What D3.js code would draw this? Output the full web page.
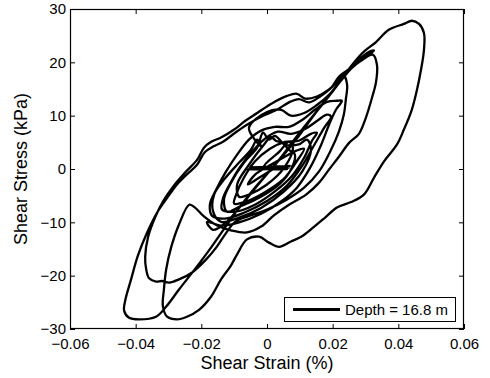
<!DOCTYPE html>
<html>
<head>
<meta charset="utf-8">
<script src="https://cdn.jsdelivr.net/npm/d3@7"></script>
<style>
html,body{margin:0;padding:0;background:#fff;}
svg{display:block;}
text{font-family:"Liberation Sans",Arial,sans-serif;fill:#000;}
</style>
</head>
<body>
<svg id="chart" width="490" height="378"></svg>
<script>
// ---- data (shear strain %, shear stress kPa) ----
const strain = [
 0,-0.0055,0.0067,-0.0061,0.0073,-0.0049,0.0061,-0.0009,
 0.0037,0.0067,0.0079,0.0052,0,-0.0055,-0.0085,-0.0091,-0.0055,-0.0009,0.0012,0.0027,0.0046,0.0067,0.0085,0.0073,0.0037,-0.0024,-0.0085,-0.0122,-0.0131,-0.0110,-0.0070,-0.0030,-0.0012,0.0006,0.0024,0.0055,0.0097,0.0122,0.0134,0.0107,0.0052,-0.0018,-0.0085,-0.0140,-0.0164,-0.0161,-0.0131,-0.0085,-0.0049,-0.0030,-0.0018,
 -0.0055,0,0.0043,0.0073,0.0113,0.0152,0.0189,0.0219,0.0234,
 0.0244,0.0240,0.0234,0.0219,0.0195,0.0158,0.0113,0.0061,0,-0.0055,-0.0097,
 -0.0128,-0.0152,-0.0186,-0.0228,-0.0268,-0.0298,-0.0320,-0.0338,-0.0359,-0.0368,
 -0.0371,-0.0362,-0.0341,-0.0317,-0.0286,-0.0250,-0.0213,-0.0192,-0.0170,-0.0140,-0.0100,-0.0067,-0.0030,0.0012,0.0061,0.0091,0.0116,0.0152,0.0189,0.0219,0.0250,0.0280,0.0311,0.0326,
 0.0295,0.0256,0.0219,0.0195,0.0164,0.0128,0.0097,0.0067,0.0030,-0.0018,-0.0061,-0.0097,-0.0134,-0.0164,-0.0189,-0.0213,-0.0244,-0.0274,
 -0.0304,-0.0335,-0.0365,-0.0393,-0.0414,-0.0432,-0.0435,-0.0420,-0.0390,
 -0.0338,-0.0307,-0.0268,-0.0216,-0.0170,-0.0128,-0.0085,-0.0037,0.0012,0.0058,0.0097,0.0137,0.0167,0.0198,0.0228,0.0259,0.0295,0.0332,0.0371,0.0417,0.0441,0.0463,
 0.0478,0.0478,0.0469,0.0457,0.0441,0.0417,0.0396,0.0356,0.0326,0.0295,0.0256,0.0213,0.0177,0.0140,0.0104,0.0073,0.0037,0.0006,-0.0024,-0.0061,-0.0091,-0.0110,
 -0.0140,-0.0170,-0.0207,-0.0244,-0.0274,-0.0304,-0.0317,
 -0.0314,-0.0307,-0.0292,-0.0268,-0.0237,
 -0.0222,-0.0192,-0.0152,-0.0110,-0.0061,-0.0018,0.0021,0.0067,0.0119,0.0158,0.0189,0.0219,0.0250,0.0280,0.0301,0.0320,0.0332,0.0335,0.0323,
 0.0286,0.0256,0.0222,0.0192,0.0158,0.0125,0.0088,0.0049,0.0006,-0.0040,-0.0085,-0.0128,-0.0164,-0.0183,
 -0.0140,-0.0085,-0.0018,0.0043,0.0091,0.0131,0.0164,0.0189,0.0210,0.0228,
 0.0213,0.0183,0.0146,0.0107,0.0067,0.0024,-0.0018,-0.0055,-0.0091,-0.0125,-0.0155,-0.0174,-0.0167,
 -0.0128,-0.0070,0,0.0061,0.0107,0.0143,0.0174,0.0195,
 0.0183,0.0152,0.0116,0.0073,0.0033,-0.0006,-0.0046,-0.0082,-0.0113,-0.0134,-0.0137,
 -0.0097,-0.0037,0.0024,0.0076,0.0113,0.0137,0.0152,
 0.0134,0.0097,0.0055,0.0009,-0.0037,-0.0070,-0.0094,-0.0100,
 -0.0055,0.0006,0.0055,0.0091,0.0113,
 0.0088,0.0049,0.0006,-0.0037,-0.0058,
 -0.0018,0.0024
];
const stress = [
 0.2,0.4,0.2,-0.1,0.6,0.2,-0.1,0.4,
 3.2,5.1,4.0,0.2,-2.9,-4.8,-5.2,-2.9,0.8,4.6,6.0,5.3,4.9,3.6,2.7,-0.1,-2.9,-5.4,-7.1,-8.0,-5.7,-2.6,1.2,4.0,6.8,5.5,6.2,4.6,4.6,5.5,3.6,-0.5,-4.2,-7.3,-9.1,-9.9,-8.0,-4.8,-2.0,1.2,3.6,5.5,4.2,
 7.7,10.7,11.1,10.0,10.5,12.0,13.9,16.2,17.5,
 15.8,13.0,10.2,7.0,3.6,-0.5,-3.5,-5.7,-7.6,-8.8,-9.9,
 -12.3,-14.5,-17.0,-19.4,-20.7,-21.3,-21.0,-21.1,-20.5,-18.8,
 -16.4,-12.7,-9.1,-6.1,-3.3,-0.7,1.7,4.0,5.1,5.9,7.4,9.0,10.5,12.2,13.7,14.1,13.2,13.6,14.9,16.7,18.6,20.5,22.0,22.2,
 20.9,19.0,17.3,15.2,13.7,12.5,13.1,12.5,11.1,9.8,8.3,6.8,5.1,4.2,3.2,0.8,-1.0,-2.9,
 -5.4,-8.2,-11.9,-16.2,-20.7,-24.7,-26.6,-27.9,-28.2,
 -27.7,-25.8,-22.6,-18.5,-14.7,-11.0,-7.3,-3.5,-0.1,3.2,6.2,9.6,12.0,14.5,16.9,19.5,22.0,23.8,26.1,27.2,27.8,27.2,
 25.5,22.3,18.6,14.9,11.1,7.4,4.6,1.4,-1.6,-4.8,-6.2,-7.2,-9.1,-11.0,-12.7,-13.6,-14.6,-13.8,-12.7,-13.2,-16.0,-18.1,
 -20.7,-23.9,-26.4,-27.7,-28.2,-27.7,-25.8,
 -22.6,-18.8,-14.7,-10.4,-6.7,
 -7.1,-8.9,-10.6,-11.5,-11.9,-10.8,-8.7,-6.7,-4.8,-2.6,-0.1,2.3,4.9,6.6,9.6,13.4,16.3,19.5,21.4,
 20.3,18.8,16.3,13.9,11.3,8.8,5.9,2.7,-0.5,-3.9,-7.3,-10.2,-11.4,-9.9,
 -10.6,-10.0,-8.4,-6.1,-3.5,0.2,4.4,8.3,11.1,12.8,
 12.8,12.6,11.1,9.2,7.9,7.9,7.2,5.5,2.7,-0.5,-3.9,-6.7,-8.8,
 -9.3,-8.2,-6.0,-3.1,0.6,4.4,7.7,9.8,
 10.2,9.0,7.5,6.6,7.0,5.7,3.2,0.4,-2.8,-5.5,-7.6,
 -8.0,-6.7,-4.2,-1.3,2.1,5.3,6.8,
 6.6,5.3,5.1,3.8,1.4,-1.6,-4.8,-6.5,
 -5.9,-3.9,-1.6,1.5,3.8,
 3.4,2.1,0.6,-1.1,-2.9,
 -1.4,0.2
];
const xTicks = [-0.06,-0.04,-0.02,0,0.02,0.04,0.06];
const xTickLabels = ["\u22120.06","\u22120.04","\u22120.02","0","0.02","0.04","0.06"];
const yTicks = [-30,-20,-10,0,10,20,30];
const yTickLabels = ["\u221230","\u221220","\u221210","0","10","20","30"];
const xTitle = "Shear Strain (%)";
const yTitle = "Shear Stress (kPa)";
const legendLabel = "Depth = 16.8 m";

// ---- layout ----
const L = 70, R = 464, T = 9, B = 329;
const svg = d3.select("#chart");
const x = d3.scaleLinear().domain([-0.06, 0.06]).range([L, R]);
const y = d3.scaleLinear().domain([-30, 30]).range([B, T]);

const pts = strain.map((s, i) => [s, stress[i]]);

// clip
svg.append("clipPath").attr("id","clip").append("rect")
  .attr("x", L).attr("y", T).attr("width", R - L).attr("height", B - T);

// data line
const line = d3.line().x(d => x(d[0])).y(d => y(d[1])).curve(d3.curveCatmullRom.alpha(0.5));
svg.append("path").datum(pts)
  .attr("clip-path","url(#clip)")
  .attr("d", line)
  .attr("fill","none").attr("stroke","#000")
  .attr("stroke-width",2.3).attr("stroke-linejoin","round").attr("stroke-linecap","round");

// axes (ticks inward, on all sides)
const fmtX = (d, i) => xTickLabels[i];
const fmtY = (d, i) => yTickLabels[i];
const axB = svg.append("g").attr("transform", `translate(0,${B})`)
  .call(d3.axisBottom(x).tickValues(xTicks).tickFormat(fmtX).tickSizeInner(-5).tickSizeOuter(0).tickPadding(9));
const axT = svg.append("g").attr("transform", `translate(0,${T})`)
  .call(d3.axisTop(x).tickValues(xTicks).tickFormat("").tickSizeInner(-5).tickSizeOuter(0));
const axL = svg.append("g").attr("transform", `translate(${L},0)`)
  .call(d3.axisLeft(y).tickValues(yTicks).tickFormat(fmtY).tickSizeInner(-5).tickSizeOuter(0).tickPadding(4));
const axR = svg.append("g").attr("transform", `translate(${R},0)`)
  .call(d3.axisRight(y).tickValues(yTicks).tickFormat("").tickSizeInner(-5).tickSizeOuter(0));
[axB, axT, axL, axR].forEach(a => {
  a.select(".domain").remove();
  a.selectAll("line").attr("stroke","#000").attr("stroke-width",1);
  a.selectAll("text").attr("font-family","Liberation Sans, Arial, sans-serif").attr("font-size",15).attr("fill","#000");
});
axB.selectAll("text").attr("dy", "0.71em");

// frame
svg.append("rect").attr("x", L + 0.5).attr("y", T + 0.5)
  .attr("width", R - L - 1).attr("height", B - T - 1)
  .attr("fill","none").attr("stroke","#000").attr("stroke-width",1.2);

// titles
svg.append("text").attr("x", (L + R) / 2).attr("y", 369)
  .attr("text-anchor","middle").attr("font-size",18).text(xTitle);
svg.append("text").attr("transform", `translate(27,${(T + B) / 2}) rotate(-90)`)
  .attr("text-anchor","middle").attr("font-size",18).text(yTitle);

// legend
const lg = svg.append("g");
lg.append("rect").attr("x",284.5).attr("y",297.5).attr("width",171).attr("height",24)
  .attr("fill","#fff").attr("stroke","#000").attr("stroke-width",1);
lg.append("line").attr("x1",293).attr("x2",340).attr("y1",309.5).attr("y2",309.5)
  .attr("stroke","#000").attr("stroke-width",3);
lg.append("text").attr("x",345).attr("y",315).attr("font-size",15).text(legendLabel);
</script>
</body>
</html>
